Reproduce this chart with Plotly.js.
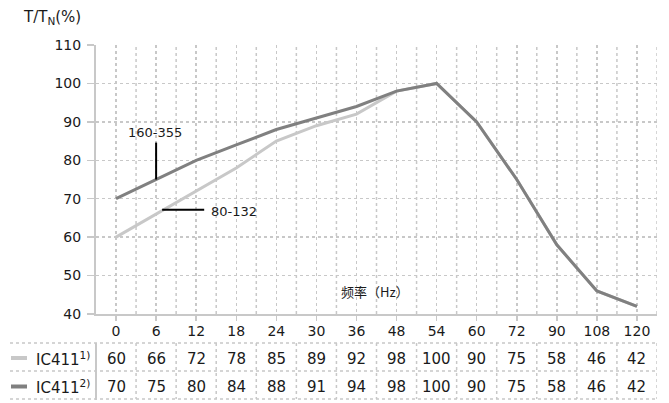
<!DOCTYPE html>
<html>
<head>
<meta charset="utf-8">
<script src="https://cdn.plot.ly/plotly-3.0.1.min.js"></script>
<style>html,body{margin:0;padding:0;background:#fff;}</style>
</head>
<body>
<div id="chart" style="width:669px;height:403px;"></div>
<script>
// ---- data ----
const categories = ["0","6","12","18","24","30","36","48","54","60","72","90","108","120"];
const series1Name = "IC411<sup>1)</sup>";
const series2Name = "IC411<sup>2)</sup>";
const series1 = [60,66,72,78,85,89,92,98,100,90,75,58,46,42];
const series2 = [70,75,80,84,88,91,94,98,100,90,75,58,46,42];
const yTicks = [40,50,60,70,80,90,100,110];
const label1 = "80-132";
const label2 = "160-355";
const xTitle = "频率（Hz）";
const yTitle = "T/T<sub>N</sub>(%)";

// ---- styling ----
const c1 = "#c8c8c8";
const c2 = "#808080";
const gridC = "#c8c8c8";
const font = "DejaVu Sans, Verdana, sans-serif";
const idx = categories.map((c, i) => i);

// pixel helpers for paper coords (plot area: x 96..657, y 45..314)
const px = p => (p - 96) / 561;
const py = p => (314 - p) / 269;

const shapes = [];
const annotations = [];

// in-between vertical grid lines (half category)
for (let i = 0; i < categories.length; i++) {
  shapes.push({type:"line", xref:"x", yref:"paper", x0:i+0.5, x1:i+0.5, y0:0, y1:1,
    line:{color:gridC, width:1.5, dash:"dot"}, layer:"below"});
}

// table
const rowSep = [343, 371, 399];
rowSep.forEach(p => shapes.push({type:"line", xref:"paper", yref:"paper",
  x0:px(10), x1:px(658), y0:py(p), y1:py(p), line:{color:gridC, width:1.5, dash:"dot"}}));
for (let i = 0; i < categories.length; i++) {
  shapes.push({type:"line", xref:"x", yref:"paper", x0:i+0.5, x1:i+0.5, y0:py(343), y1:py(399),
    line:{color:gridC, width:1.5, dash:"dot"}});
}
shapes.push({type:"line", xref:"paper", yref:"paper", x0:0, x1:0, y0:py(343), y1:py(400),
  line:{color:gridC, width:2}});

const rows = [[series1, series1Name, c1, 358.5], [series2, series2Name, c2, 387]];
rows.forEach(([vals, name, col, yy]) => {
  vals.forEach((v, i) => annotations.push({xref:"x", yref:"paper", x:i, y:py(yy),
    xanchor:"center", yanchor:"middle",
    text:String(v), showarrow:false, font:{family:font, size:15, color:"#1a1a1a"}}));
  shapes.push({type:"rect", xref:"paper", yref:"paper", x0:px(11), x1:px(27),
    y0:py(yy+1.5), y1:py(yy-2.5), fillcolor:col, line:{width:0}});
  annotations.push({xref:"paper", yref:"paper", x:px(34), y:py(yy), xanchor:"left", yanchor:"middle",
    text:name, showarrow:false, font:{family:font, size:15, color:"#1a1a1a"}});
});

// callouts
shapes.push({type:"line", xref:"x", yref:"y", x0:1, x1:1, y0:series2[1], y1:84.6,
  line:{color:"#000", width:2}});
annotations.push({xref:"x", yref:"y", x:0.98, y:87.2, xanchor:"center", yanchor:"middle",
  text:label2, showarrow:false, font:{family:font, size:13, color:"#1a1a1a"}});
shapes.push({type:"line", xref:"x", yref:"y", x0:1.15, x1:2.2, y0:67.1, y1:67.1,
  line:{color:"#000", width:2}});
annotations.push({xref:"x", yref:"y", x:2.33, y:66.7, xanchor:"left", yanchor:"middle",
  text:label1, showarrow:false, font:{family:font, size:13, color:"#1a1a1a"}});

// titles
annotations.push({xref:"paper", yref:"paper", x:0.497, y:py(291), xanchor:"center", yanchor:"middle",
  text:xTitle, showarrow:false,
  font:{family:"Noto Sans CJK SC, sans-serif", size:13, color:"#1a1a1a"}});
annotations.push({xref:"paper", yref:"paper", x:px(21), y:py(17), xanchor:"left", yanchor:"middle",
  text:yTitle, showarrow:false, font:{family:font, size:15, color:"#1a1a1a"}});

const traces = [
  {x: idx, y: series1, type:"scatter", mode:"lines", name:"IC411 1)",
   line:{color:c1, width:3}},
  {x: idx, y: series2, type:"scatter", mode:"lines", name:"IC411 2)",
   line:{color:c2, width:3}}
];

const layout = {
  width:669, height:403,
  margin:{l:96, r:12, t:45, b:89},
  paper_bgcolor:"#fff", plot_bgcolor:"#fff",
  showlegend:false,
  font:{family:font, size:14, color:"#1a1a1a"},
  xaxis:{range:[-0.5, 13.5], tickmode:"array", tickvals:idx, ticktext:categories,
    showgrid:true, gridcolor:gridC, gridwidth:1.5, griddash:"dot",
    showline:true, linecolor:"#c8c8c8", linewidth:2,
    ticks:"outside", ticklen:5, tickcolor:"#c8c8c8", tickwidth:1.5, ticklabelstandoff:-2,
    zeroline:false, fixedrange:true, tickfont:{family:font, size:14, color:"#1a1a1a"}},
  yaxis:{range:[40,110], tickmode:"array", tickvals:yTicks,
    showgrid:true, gridcolor:gridC, gridwidth:1.5, griddash:"dot",
    showline:true, linecolor:"#c8c8c8", linewidth:2,
    ticks:"outside", ticklen:7, tickcolor:"#c8c8c8", tickwidth:1.5, ticklabelstandoff:3,
    zeroline:false, fixedrange:true, tickfont:{family:font, size:14, color:"#1a1a1a"}},
  shapes: shapes,
  annotations: annotations
};

Plotly.newPlot("chart", traces, layout, {displayModeBar:false, staticPlot:true});
</script>
</body>
</html>
